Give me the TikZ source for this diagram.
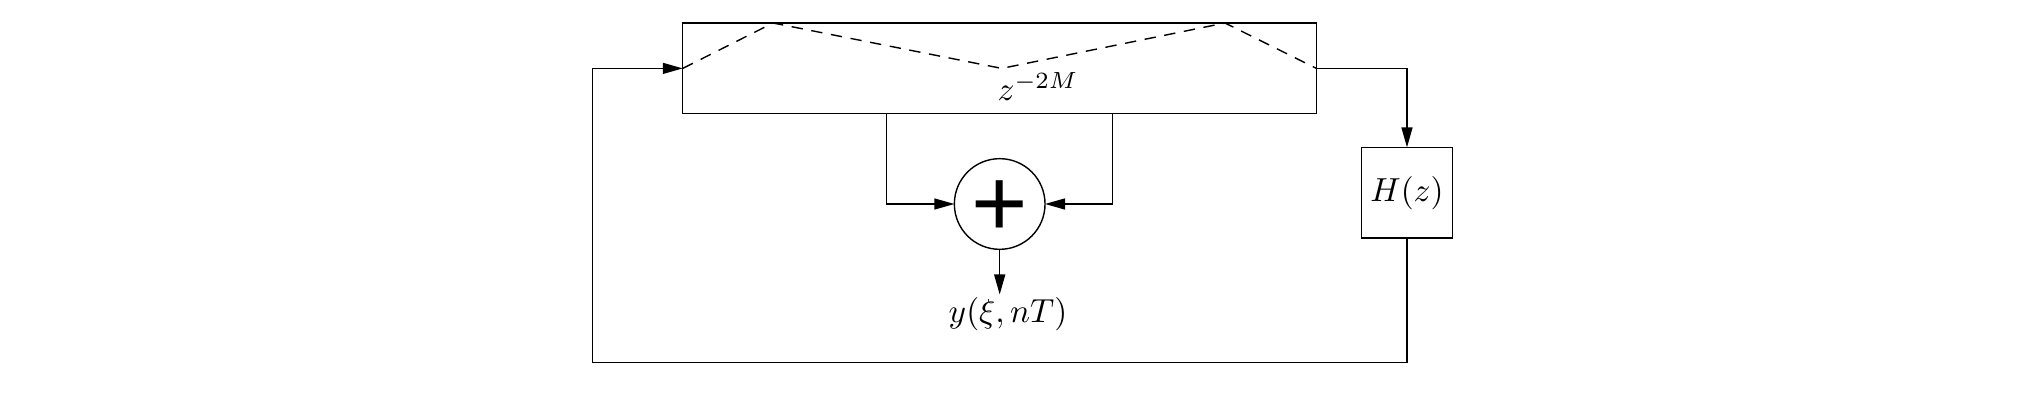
\documentclass[tikz,border=0pt]{standalone}
\usepackage{fontspec}
\newfontfamily\plusfont{Liberation Sans}
\usetikzlibrary{arrows.meta}
\tikzset{
  boxnode/.style={draw,rectangle,line width=0.42pt,inner sep=0pt,outer sep=0pt},
  sumnode/.style={draw,circle,line width=0.42pt,inner sep=0pt,outer sep=0pt,minimum size=27.2pt},
  conn/.style={line width=0.42pt},
  arrowed/.style={conn,-{Triangle[length=6pt,width=3.3pt]}},
  delayline/.style={conn,dash pattern=on 3.4pt off 2.6pt}
}
\begin{document}
\begin{tikzpicture}[x=0.3pt,y=-0.3pt]
\useasboundingbox (0,0) rectangle (2044,401);
\node[boxnode,minimum width=190.1pt,minimum height=27.2pt] (delay) at (999.6,68.4) {};
\node[boxnode,minimum width=27.2pt,minimum height=27.2pt] (hz) at (1407,192.7) {$H(z)$};
\node[sumnode,font=\plusfont\fontsize{29}{30}\selectfont] (sum) at (999.7,204) {\raisebox{-9.7pt}[0pt][0pt]{+}};
\node[inner sep=0pt,anchor=base] (out) at (1008,323) {$y(\xi,nT)$};
\node[inner sep=0pt,anchor=base] (zlabel) at (1038,100.5) {$z^{-2M}$};
\coordinate (lb) at (886.7,113.5);
\coordinate (rb) at (1112.7,113.5);
\coordinate (fb) at (592.3,362.5);
\coordinate (p1) at (773,23);
\coordinate (p2) at (1001.7,68.4);
\coordinate (p3) at (1225,23);
\coordinate (outtip) at (999.7,294.5);
\draw[delayline] (delay.west) -- (p1) -- (p2) -- (p3) -- (delay.east);
\draw[arrowed] (delay.east) -| (hz.north);
\draw[arrowed] (hz.south) |- (fb) |- (delay.west);
\draw[arrowed] (lb) |- (sum.west);
\draw[arrowed] (rb) |- (sum.east);
\draw[arrowed] (sum.south) -- (outtip);
\end{tikzpicture}
\end{document}
